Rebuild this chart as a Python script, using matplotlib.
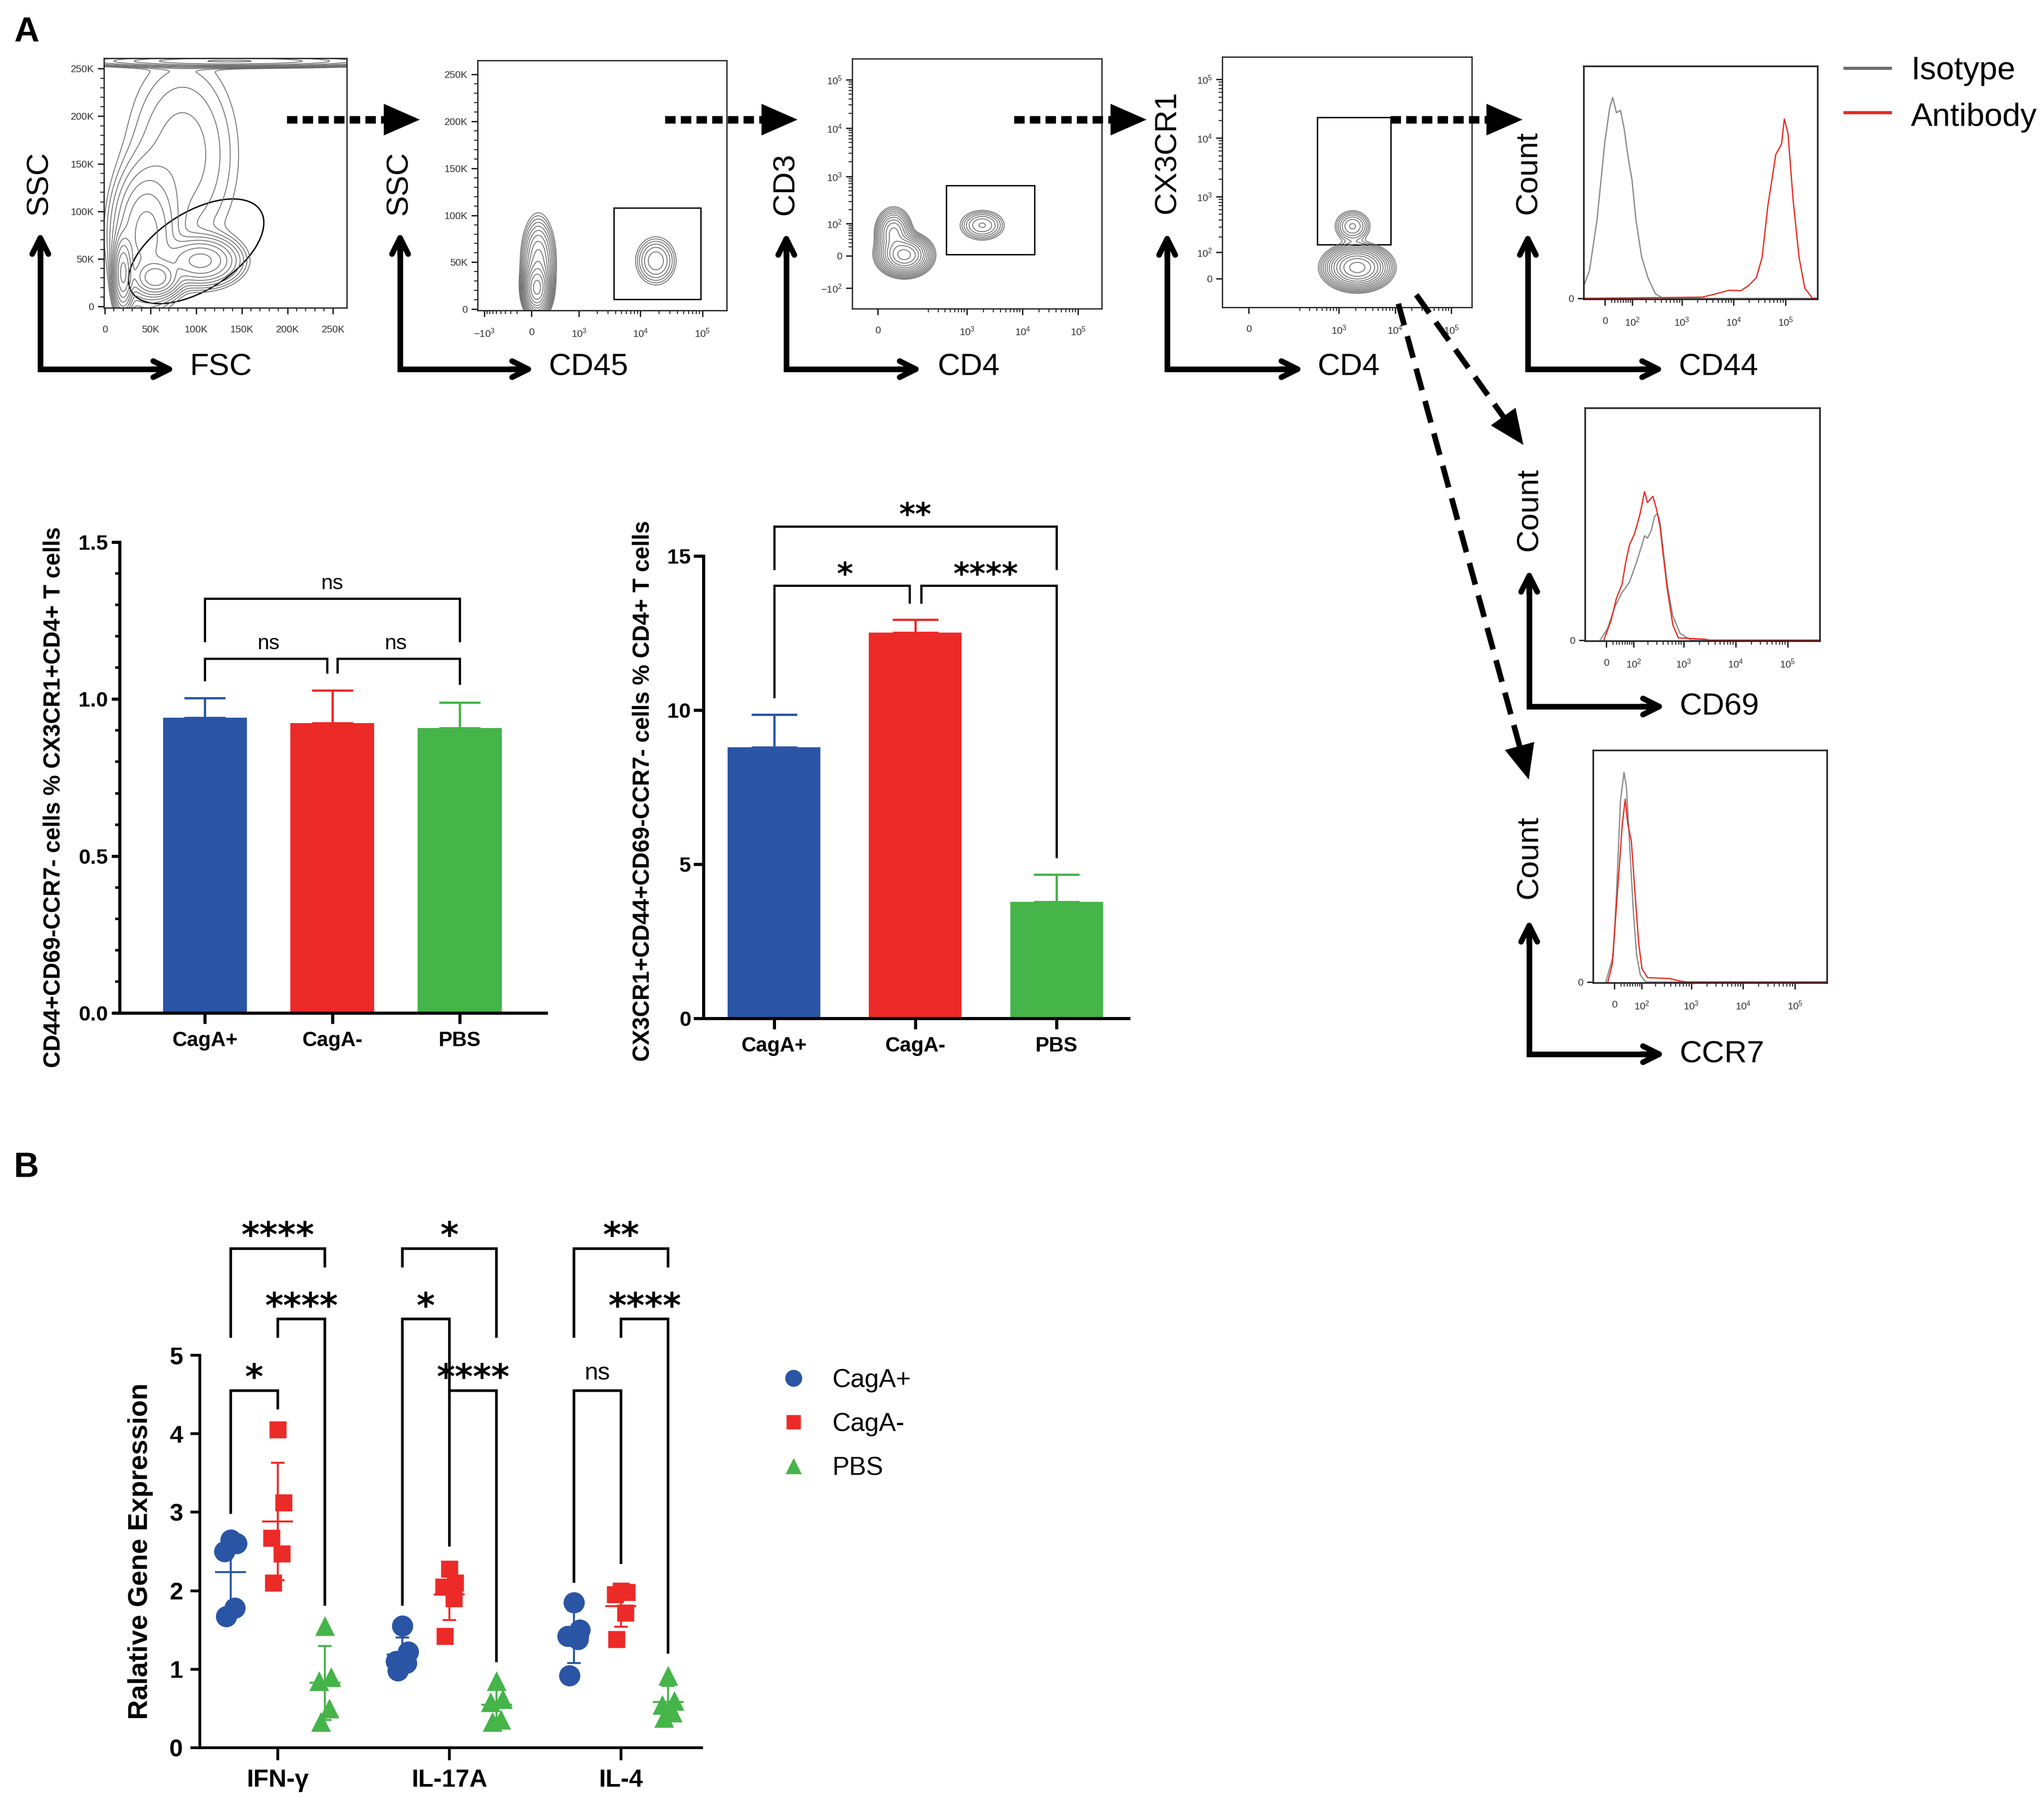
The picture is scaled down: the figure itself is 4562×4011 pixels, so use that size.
import numpy as np
import matplotlib
matplotlib.use("Agg")
import matplotlib.pyplot as plt
from matplotlib.patches import Ellipse, Rectangle, FancyArrowPatch
from matplotlib.ticker import FixedLocator, MultipleLocator, FormatStrFormatter

plt.rcParams['font.family'] = ['Liberation Sans', 'DejaVu Sans']
plt.rcParams['mathtext.fontset'] = 'custom'
plt.rcParams['mathtext.rm'] = 'Liberation Sans'
plt.rcParams['mathtext.it'] = 'Liberation Sans:italic'
plt.rcParams['mathtext.bf'] = 'Liberation Sans:bold'

# ---------------- data ----------------
groups = ["CagA+", "CagA-", "PBS"]
group_colors = ["#2a55a5", "#ec2a28", "#45b449"]

# CD44+CD69-CCR7- cells % CX3CR1+CD4+ T cells (mean, SEM)
pct_cx3cr1 = [0.941, 0.924, 0.908]
pct_cx3cr1_sem = [0.063, 0.104, 0.081]
# (group a, group b, label, bracket height, left leg end, right leg end)
pct_cx3cr1_tests = [(0, 1, "ns", 1.129, 1.057, 1.082),
                    (1, 2, "ns", 1.129, 1.082, 1.046),
                    (0, 2, "ns", 1.32, 1.182, 1.182)]

# CX3CR1+CD44+CD69-CCR7- cells % CD4+ T cells (mean, SEM)
pct_cd4 = [8.79, 12.51, 3.78]
pct_cd4_sem = [1.07, 0.43, 0.88]
pct_cd4_tests = [(0, 1, "*", 14.04, 10.39, 13.46),
                 (1, 2, "****", 14.04, 13.46, 5.2),
                 (0, 2, "**", 15.96, 14.55, 14.55)]

# panel B, relative gene expression, 5 mice per group
genes = ["IFN-γ", "IL-17A", "IL-4"]
expr_cagA_pos = [[2.65, 2.6, 2.5, 1.78, 1.67], [1.55, 1.22, 1.1, 1.08, 0.98], [1.85, 1.5, 1.42, 1.38, 0.92]]
expr_cagA_neg = [[4.05, 3.12, 2.67, 2.47, 2.1], [2.28, 2.1, 2.05, 1.9, 1.42], [2.0, 1.98, 1.95, 1.72, 1.38]]
expr_pbs = [[1.55, 0.9, 0.85, 0.5, 0.33], [0.85, 0.62, 0.58, 0.36, 0.33], [0.92, 0.6, 0.55, 0.45, 0.38]]
# (gene, group a, group b, label, bracket height, left leg end, right leg end)
expr_tests = [(0, 0, 1, "*", 4.55, 2.98, 4.31), (0, 1, 2, "****", 5.46, 5.22, 1.81), (0, 0, 2, "****", 6.36, 5.22, 6.12),
              (1, 0, 2, "*", 6.36, 6.12, 5.22), (1, 0, 1, "*", 5.46, 1.81, 2.56), (1, 1, 2, "****", 4.55, 4.31, 1.09),
              (2, 0, 2, "**", 6.36, 5.22, 6.12), (2, 1, 2, "****", 5.46, 5.22, 1.2), (2, 0, 1, "ns", 4.55, 2.1, 2.34)]

# histogram traces (fluorescence, fraction of max)
cd44_iso_x = [-70, -48, -23, 0, 14, 23, 35, 49, 63, 81, 99, 121, 160, 215, 303, 430, 410000]
cd44_iso_y = [0.055, 0.12, 0.34, 0.675, 0.82, 0.866, 0.80, 0.81, 0.73, 0.60, 0.51, 0.34, 0.18, 0.09, 0.02, 0.0, 0.0]
cd44_ab_x = [-70, 2440, 4100, 8200, 13800, 19400, 27400, 35400, 45800, 65000, 84000, 95000, 112000, 141000, 183000, 236000, 333000, 410000]
cd44_ab_y = [0.0, 0.005, 0.017, 0.035, 0.033, 0.055, 0.089, 0.177, 0.40, 0.62, 0.665, 0.773, 0.71, 0.42, 0.177, 0.044, 0.0, 0.0]
cd69_iso_x = [-18, 3, 25, 49, 79, 115, 151, 171, 196, 232, 273, 311, 348, 409, 482, 617, 855, 1395, 410000]
cd69_iso_y = [0.0, 0.048, 0.143, 0.205, 0.25, 0.335, 0.41, 0.45, 0.44, 0.47, 0.535, 0.545, 0.507, 0.373, 0.239, 0.105, 0.029, 0.0, 0.0]
cd69_ab_x = [-7, 14, 30, 49, 63, 79, 105, 138, 171, 196, 252, 297, 348, 409, 482, 617, 788, 2650, 3120, 410000]
cd69_ab_y = [0.0, 0.086, 0.18, 0.24, 0.335, 0.41, 0.46, 0.545, 0.64, 0.593, 0.62, 0.565, 0.49, 0.354, 0.22, 0.067, 0.01, 0.004, 0.0, 0.0]
ccr7_iso_x = [-25, -3, 7, 18, 29, 37, 48, 62, 76, 94, 124, 410000]
ccr7_iso_y = [0.0, 0.114, 0.40, 0.78, 0.905, 0.84, 0.59, 0.305, 0.114, 0.029, 0.0, 0.0]
ccr7_ab_x = [-19, -6, 7, 24, 33, 41, 54, 69, 85, 102, 136, 373, 606, 838, 410000]
ccr7_ab_y = [0.0, 0.076, 0.343, 0.686, 0.79, 0.686, 0.61, 0.38, 0.17, 0.057, 0.019, 0.015, 0.004, 0.0, 0.0]

# populations seen in the gating plots: (x centre, y centre, x spread, y spread, weight)
# spreads are in the units of each axis scale (linear or arcsinh units)
fsc_ssc_pops = [(20e3, 35e3, 5e3, 18e3, 1.0), (56e3, 30e3, 12e3, 9e3, 0.75), (105e3, 48e3, 20e3, 12e3, 0.45),
                (45e3, 75e3, 18e3, 35e3, 0.3), (85e3, 160e3, 35e3, 60e3, 0.06), (140e3, 258e3, 80e3, 3e3, 0.4)]
cd45_ssc_pops = [(70, 22e3, 0.22, 12e3, 1.0), (90, 50e3, 0.28, 22e3, 0.3), (17800, 51.5e3, 0.38, 13e3, 0.12)]
cd4_cd3_pops = [(67, 2.2, 0.45, 0.4, 1.0), (35, 60, 0.32, 0.5, 0.35), (1880, 92, 0.45, 0.35, 0.12)]
cd4_cx3cr1_pops = [(2120, 37, 0.55, 0.35, 1.0), (1750, 310, 0.35, 0.3, 0.12)]

# ---------------- figure ----------------
W, H = 4562, 4011
fig = plt.figure(figsize=(W / 100, H / 100), dpi=100)
fig.patch.set_facecolor("white")


def box(x0, y0, x1, y1):
    return [x0 / W, 1 - y1 / H, (x1 - x0) / W, (y1 - y0) / H]


def asinh_scale(c):
    return (lambda v: np.arcsinh(np.asarray(v, dtype=float) / c),
            lambda u: c * np.sinh(np.asarray(u, dtype=float)))


def dec_label(v):
    if v == 0:
        return "0"
    e = int(round(np.log10(abs(v))))
    return ("$-10^{%d}$" if v < 0 else "$10^{%d}$") % e


def log_minors(lo_exp, hi_exp, neg=False):
    m = [k * 10 ** n for n in range(lo_exp, hi_exp + 1) for k in range(2, 10)]
    if neg:
        m += [-k * 100 for k in range(2, 10)]
    return m


def flow_axes(rect, xs, ys, xlim, ylim, xt, yt, xminor, yminor, xlab=None, ylab=None, frame=2.0):
    ax = fig.add_axes(box(*rect))
    if xs is not None:
        ax.set_xscale("function", functions=xs)
    if ys is not None:
        ax.set_yscale("function", functions=ys)
    ax.set_xlim(*xlim)
    ax.set_ylim(*ylim)
    ax.xaxis.set_major_locator(FixedLocator(xt))
    ax.yaxis.set_major_locator(FixedLocator(yt))
    ax.xaxis.set_minor_locator(FixedLocator(xminor))
    ax.yaxis.set_minor_locator(FixedLocator(yminor))
    ax.set_xticklabels(xlab if xlab else [dec_label(v) for v in xt])
    ax.set_yticklabels(ylab if ylab else [dec_label(v) for v in yt])
    ax.tick_params(which="major", length=10, width=2.2, color="#222", labelsize=16, labelcolor="#333")
    ax.tick_params(which="minor", length=6, width=1.6, color="#222")
    ax.tick_params(axis="x", pad=18)
    ax.tick_params(axis="y", pad=6)
    for s in ax.spines.values():
        s.set_linewidth(frame)
        s.set_color("#222")
    return ax


def density(ax, pops, xs, ys, levels):
    x0, x1 = ax.get_xlim()
    y0, y1 = ax.get_ylim()
    fx = xs[0] if xs else (lambda v: np.asarray(v, dtype=float))
    ix = xs[1] if xs else (lambda u: np.asarray(u, dtype=float))
    fy = ys[0] if ys else (lambda v: np.asarray(v, dtype=float))
    iy = ys[1] if ys else (lambda u: np.asarray(u, dtype=float))
    U, V = np.meshgrid(np.linspace(fx(x0), fx(x1), 400), np.linspace(fy(y0), fy(y1), 400))
    Z = np.zeros_like(U)
    for (cx, cy, sx, sy, w) in pops:
        Z += w * np.exp(-0.5 * (((U - fx(cx)) / sx) ** 2 + ((V - fy(cy)) / sy) ** 2))
    ax.contour(ix(U), iy(V), Z, levels=Z.max() * np.asarray(levels), colors="#6a6a6a", linewidths=1.3)


# --- FSC / SSC ---
lin_t = [0, 50e3, 100e3, 150e3, 200e3, 250e3]
lin_l = ["0", "50K", "100K", "150K", "200K", "250K"]
lin_m = list(np.arange(10e3, 260e3, 10e3))
ax1 = flow_axes((232, 130, 774, 687), None, None, (-1e3, 265e3), (-1.4e3, 261e3),
                lin_t, lin_t, lin_m, lin_m, lin_l, lin_l)
density(ax1, fsc_ssc_pops, None, None, np.geomspace(0.012, 0.85, 11))
ax1.add_patch(Ellipse((100e3, 58e3), 165e3, 83e3, angle=30.5, fill=False, lw=2.2, ec="black"))

# --- CD45 / SSC ---
sx2 = asinh_scale(355)
ax2 = flow_axes((1066, 135, 1622, 693), sx2, None, (-1290, 2.47e5), (-1.4e3, 265e3),
                [-1e3, 0, 1e3, 1e4, 1e5], lin_t, log_minors(3, 4, True), lin_m, None, lin_l)
density(ax2, cd45_ssc_pops, sx2, None, np.geomspace(0.015, 0.85, 13))
ax2.add_patch(Rectangle((3740, 10.4e3), 93700 - 3740, 108e3 - 10.4e3, fill=False, lw=2.2, ec="black"))

# --- CD4 / CD3 ---
sx3, sy3 = asinh_scale(50), asinh_scale(45)
ax3 = flow_axes((1902, 131, 2459, 689), sx3, sy3, (-64, 2.67e5), (-276, 2.73e5),
                [0, 1e3, 1e4, 1e5], [-1e2, 0, 1e2, 1e3, 1e4, 1e5], log_minors(2, 4), log_minors(1, 4))
density(ax3, cd4_cd3_pops, sx3, sy3, np.geomspace(0.015, 0.85, 13))
ax3.add_patch(Rectangle((427, 2.8), 16600 - 427, 640 - 2.8, fill=False, lw=2.2, ec="black"))

# --- CD4 / CX3CR1 ---
sx4, sy4 = asinh_scale(50), asinh_scale(80)
ax4 = flow_axes((2728, 127, 3285, 686), sx4, sy4, (-66, 2.32e5), (-109, 2.42e5),
                [0, 1e3, 1e4, 1e5], [0, 1e2, 1e3, 1e4, 1e5], log_minors(2, 4), log_minors(2, 4))
density(ax4, cd4_cx3cr1_pops, sx4, sy4, np.geomspace(0.015, 0.85, 13))
ax4.add_patch(Rectangle((414, 143), 8300 - 414, 22400 - 143, fill=False, lw=2.2, ec="black"))

# --- histograms ---
sxh = asinh_scale(65)
hist_specs = [((3535, 148, 4057, 668), cd44_iso_x, cd44_iso_y, cd44_ab_x, cd44_ab_y),
              ((3538, 911, 4062, 1431), cd69_iso_x, cd69_iso_y, cd69_ab_x, cd69_ab_y),
              ((3556, 1675, 4078, 2194), ccr7_iso_x, ccr7_iso_y, ccr7_ab_x, ccr7_ab_y)]
for rect, ix_, iy_, ax_, ay_ in hist_specs:
    h = flow_axes(rect, sxh, None, (-70, 4.2e5), (-0.004, 1.0), [0, 1e2, 1e3, 1e4, 1e5], [0],
                  log_minors(1, 4), [], None, ["0"], frame=2.6)
    h.plot(ix_, iy_, color="#8a8a8a", lw=2.0)
    h.plot(ax_, ay_, color="#e8281e", lw=2.0)

# ---------------- bar charts ----------------
def brackets(ax, tests, gap, star_fs, ns_fs, lw):
    for a, b, lab, yh, ya, yb in tests:
        xa = a + (gap if a == 1 else 0)
        xb = b - (gap if b == 1 else 0)
        ax.plot([xa, xa, xb, xb], [ya, yh, yh, yb], color="black", lw=lw, clip_on=False,
                solid_joinstyle="miter", solid_capstyle="butt")
        if lab == "ns":
            ax.annotate(lab, xy=((a + b) / 2, yh), xytext=(0, 0.45 * ns_fs), textcoords="offset points",
                        ha="center", va="baseline", fontsize=ns_fs, annotation_clip=False)
        else:
            ax.annotate(lab, xy=((a + b) / 2, yh), xytext=(0, 0.05 * star_fs), textcoords="offset points",
                        ha="center", va="baseline", fontsize=star_fs, fontweight="bold",
                        family="DejaVu Sans", annotation_clip=False)


def style_axes(ax, lw):
    for s in ["top", "right"]:
        ax.spines[s].set_visible(False)
    for s in ["left", "bottom"]:
        ax.spines[s].set_linewidth(lw)


x = np.arange(len(groups))

axb1 = fig.add_axes(box(267, 1210, 1219, 2261))
axb1.bar(x, pct_cx3cr1, width=0.66, color=group_colors, zorder=2)
for i in range(len(groups)):
    axb1.errorbar(x[i], pct_cx3cr1[i], yerr=[[0], [pct_cx3cr1_sem[i]]], fmt="none", ecolor=group_colors[i],
                  elinewidth=3.6, capsize=33, capthick=3.6, zorder=1)
axb1.set_xlim(-0.67, 2.68)
axb1.set_ylim(0, 1.5)
axb1.yaxis.set_major_locator(MultipleLocator(0.5))
axb1.yaxis.set_minor_locator(MultipleLocator(0.1))
axb1.yaxis.set_major_formatter(FormatStrFormatter("%.1f"))
axb1.set_xticks(x)
axb1.set_xticklabels(groups)
style_axes(axb1, 5)
axb1.tick_params(axis="y", which="major", length=13, width=5, labelsize=34, pad=6)
axb1.tick_params(axis="y", which="minor", length=7, width=4)
axb1.tick_params(axis="x", length=17, width=5, labelsize=33, pad=12)
for t in axb1.get_xticklabels() + axb1.get_yticklabels():
    t.set_fontweight("bold")
axb1.text(-0.154, 0.458, "CD44+CD69-CCR7- cells % CX3CR1+CD4+ T cells", transform=axb1.transAxes,
          rotation=90, ha="center", va="center", fontsize=37, fontweight="bold")
brackets(axb1, pct_cx3cr1_tests, 0.04, 50, 34, 3.6)

axb2 = fig.add_axes(box(1570, 1241, 2519, 2273))
axb2.bar(x, pct_cd4, width=0.657, color=group_colors, zorder=2)
for i in range(len(groups)):
    axb2.errorbar(x[i], pct_cd4[i], yerr=[[0], [pct_cd4_sem[i]]], fmt="none", ecolor=group_colors[i],
                  elinewidth=3.6, capsize=37, capthick=3.6, zorder=1)
axb2.set_xlim(-0.50, 2.51)
axb2.set_ylim(0, 15)
axb2.yaxis.set_major_locator(MultipleLocator(5))
axb2.set_xticks(x)
axb2.set_xticklabels(groups)
style_axes(axb2, 5)
axb2.tick_params(axis="y", length=16, width=5, labelsize=34, pad=4)
axb2.tick_params(axis="x", length=17, width=5, labelsize=33, pad=12)
for t in axb2.get_xticklabels() + axb2.get_yticklabels():
    t.set_fontweight("bold")
axb2.text(-0.142, 0.492, "CX3CR1+CD44+CD69-CCR7- cells % CD4+ T cells", transform=axb2.transAxes,
          rotation=90, ha="center", va="center", fontsize=37, fontweight="bold")
brackets(axb2, pct_cd4_tests, 0.04, 50, 34, 3.6)

# ---------------- panel B ----------------
axB = fig.add_axes(box(446, 3025, 1566, 3901))
offsets = [-0.275, 0.0, 0.275]
markers = ["o", "s", "^"]
msizes = [34, 28, 32]
swarm = [0.0, 0.035, -0.035, 0.025, -0.025]
series = [expr_cagA_pos, expr_cagA_neg, expr_pbs]
handles = []
for gi, (vals, off, mk, ms, col) in enumerate(zip(series, offsets, markers, msizes, group_colors)):
    for k in range(len(genes)):
        v = np.asarray(vals[k])
        xs_ = k + off + np.asarray(swarm[:len(v)])
        ln, = axB.plot(xs_, v, linestyle="none", marker=mk, ms=ms, color=col, mec="none", zorder=3,
                       clip_on=False)
        m, sd = v.mean(), v.std(ddof=1)
        axB.hlines(m, k + off - 0.09, k + off + 0.09, color=col, lw=3.2, zorder=4)
        axB.errorbar(k + off, m, yerr=sd, fmt="none", ecolor=col, elinewidth=3.2, capsize=11, capthick=3.2, zorder=4)
    ln.set_label(groups[gi])
    handles.append(ln)

for g, a, b, lab, yh, ya, yb in expr_tests:
    xa, xb = g + offsets[a], g + offsets[b]
    axB.plot([xa, xa, xb, xb], [ya, yh, yh, yb], color="black", lw=4.2, clip_on=False,
             solid_joinstyle="miter", solid_capstyle="butt")
    if lab == "ns":
        axB.annotate(lab, xy=((xa + xb) / 2, yh), xytext=(0, 0.45 * 39), textcoords="offset points",
                     ha="center", va="baseline", fontsize=39, annotation_clip=False)
    else:
        axB.annotate(lab, xy=((xa + xb) / 2, yh), xytext=(0, 0.05 * 56), textcoords="offset points",
                     ha="center", va="baseline", fontsize=56, fontweight="bold", family="DejaVu Sans",
                     annotation_clip=False)

axB.set_xlim(-0.454, 2.47)
axB.set_ylim(0, 5)
axB.yaxis.set_major_locator(MultipleLocator(1))
axB.set_xticks(range(len(genes)))
axB.set_xticklabels(genes)
style_axes(axB, 4.5)
axB.tick_params(axis="y", length=15, width=4.5, labelsize=39, pad=12)
axB.tick_params(axis="x", length=20, width=4.5, labelsize=40, pad=14)
for t in axB.get_xticklabels() + axB.get_yticklabels():
    t.set_fontweight("bold")
axB.text(-0.118, 0.5, "Ralative Gene Expression", transform=axB.transAxes, rotation=90,
         ha="center", va="center", fontsize=44, fontweight="bold")
fig.legend(handles=handles, loc="center left", bbox_to_anchor=(1743 / W, 1 - 3179 / H), frameon=False,
           fontsize=41, handlelength=1.0, handletextpad=1.0, labelspacing=0.78, borderpad=0,
           borderaxespad=0, markerscale=0.8)

# ---------------- overlay: arrows, axis names, panel letters ----------------
ov = fig.add_axes([0, 0, 1, 1], zorder=20)
ov.set_xlim(0, W)
ov.set_ylim(H, 0)
ov.axis("off")

# (corner x, corner y, vertical tip y, horizontal tip x)
corners = [(90, 824, 511, 398), (893, 824, 511, 1199), (1755, 824, 513, 2064), (2605, 824, 513, 2916),
           (3410, 824, 513, 3721), (3413, 1577, 1265, 3723), (3413, 2353, 2046, 3723)]
for cx, cy, ty, tx in corners:
    ov.plot([cx, cx, tx - 25], [ty + 25, cy, cy], color="black", lw=9, solid_joinstyle="miter",
            solid_capstyle="projecting")
    for a, b in [((cx, ty + 60), (cx, ty + 6)), ((tx - 60, cy), (tx - 6, cy))]:
        ov.add_patch(FancyArrowPatch(a, b, arrowstyle="->,head_length=26,head_width=13", color="black",
                                     lw=9, mutation_scale=1, shrinkA=0, shrinkB=0))

vnames = [("SSC", 87, 408), ("SSC", 890, 408), ("CD3", 1753, 410), ("CX3CR1", 2605, 340),
          ("Count", 3411, 385), ("Count", 3413, 1137), ("Count", 3413, 1913)]
for s, px, py in vnames:
    ov.text(px, py, s, rotation=90, ha="center", va="center", fontsize=50)
hnames = [("FSC", 423, 838), ("CD45", 1224, 838), ("CD4", 2093, 838), ("CD4", 2940, 838),
          ("CD44", 3747, 838), ("CD69", 3748, 1596), ("CCR7", 3748, 2372)]
for s, px, py in hnames:
    ov.text(px, py, s, ha="left", va="baseline", fontsize=50)

# dashed gating arrows
for x0, x1 in [(640, 937), (1484, 1780), (2263, 2559), (3103, 3398)]:
    ov.plot([x0, x1 - 72], [267, 267], color="black", lw=12, linestyle=(0, (1.4, 0.7)), solid_capstyle="butt")
    ov.add_patch(FancyArrowPatch((x1 - 80, 267), (x1, 267), arrowstyle="-|>,head_length=57,head_width=25",
                                 color="black", lw=0.5, mutation_scale=1, shrinkA=0, shrinkB=0))
for (x0, y0), (x1, y1) in [((3161, 658), (3400, 993)), ((3121, 678), (3412, 1740))]:
    d = np.hypot(x1 - x0, y1 - y0)
    ux, uy = (x1 - x0) / d, (y1 - y0) / d
    ov.plot([x0, x1 - 65 * ux], [y0, y1 - 65 * uy], color="black", lw=9, linestyle=(0, (4.0, 2.0)),
            dash_capstyle="butt")
    ov.add_patch(FancyArrowPatch((x1 - 80 * ux, y1 - 80 * uy), (x1, y1),
                                 arrowstyle="-|>,head_length=55,head_width=24",
                                 color="black", lw=0.5, mutation_scale=1, shrinkA=0, shrinkB=0))

# histogram legend
ov.plot([4114, 4222], [152, 152], color="#6d6d6d", lw=5, solid_capstyle="butt")
ov.plot([4114, 4222], [251, 251], color="#e8281e", lw=5, solid_capstyle="butt")
ov.text(4265, 177, "Isotype", ha="left", va="baseline", fontsize=52)
ov.text(4265, 281, "Antibody", ha="left", va="baseline", fontsize=52)

ov.text(31, 92, "A", ha="left", va="baseline", fontsize=56, fontweight="bold")
ov.text(31, 2627, "B", ha="left", va="baseline", fontsize=56, fontweight="bold")

fig.savefig("out.png", dpi=100, facecolor="white")
